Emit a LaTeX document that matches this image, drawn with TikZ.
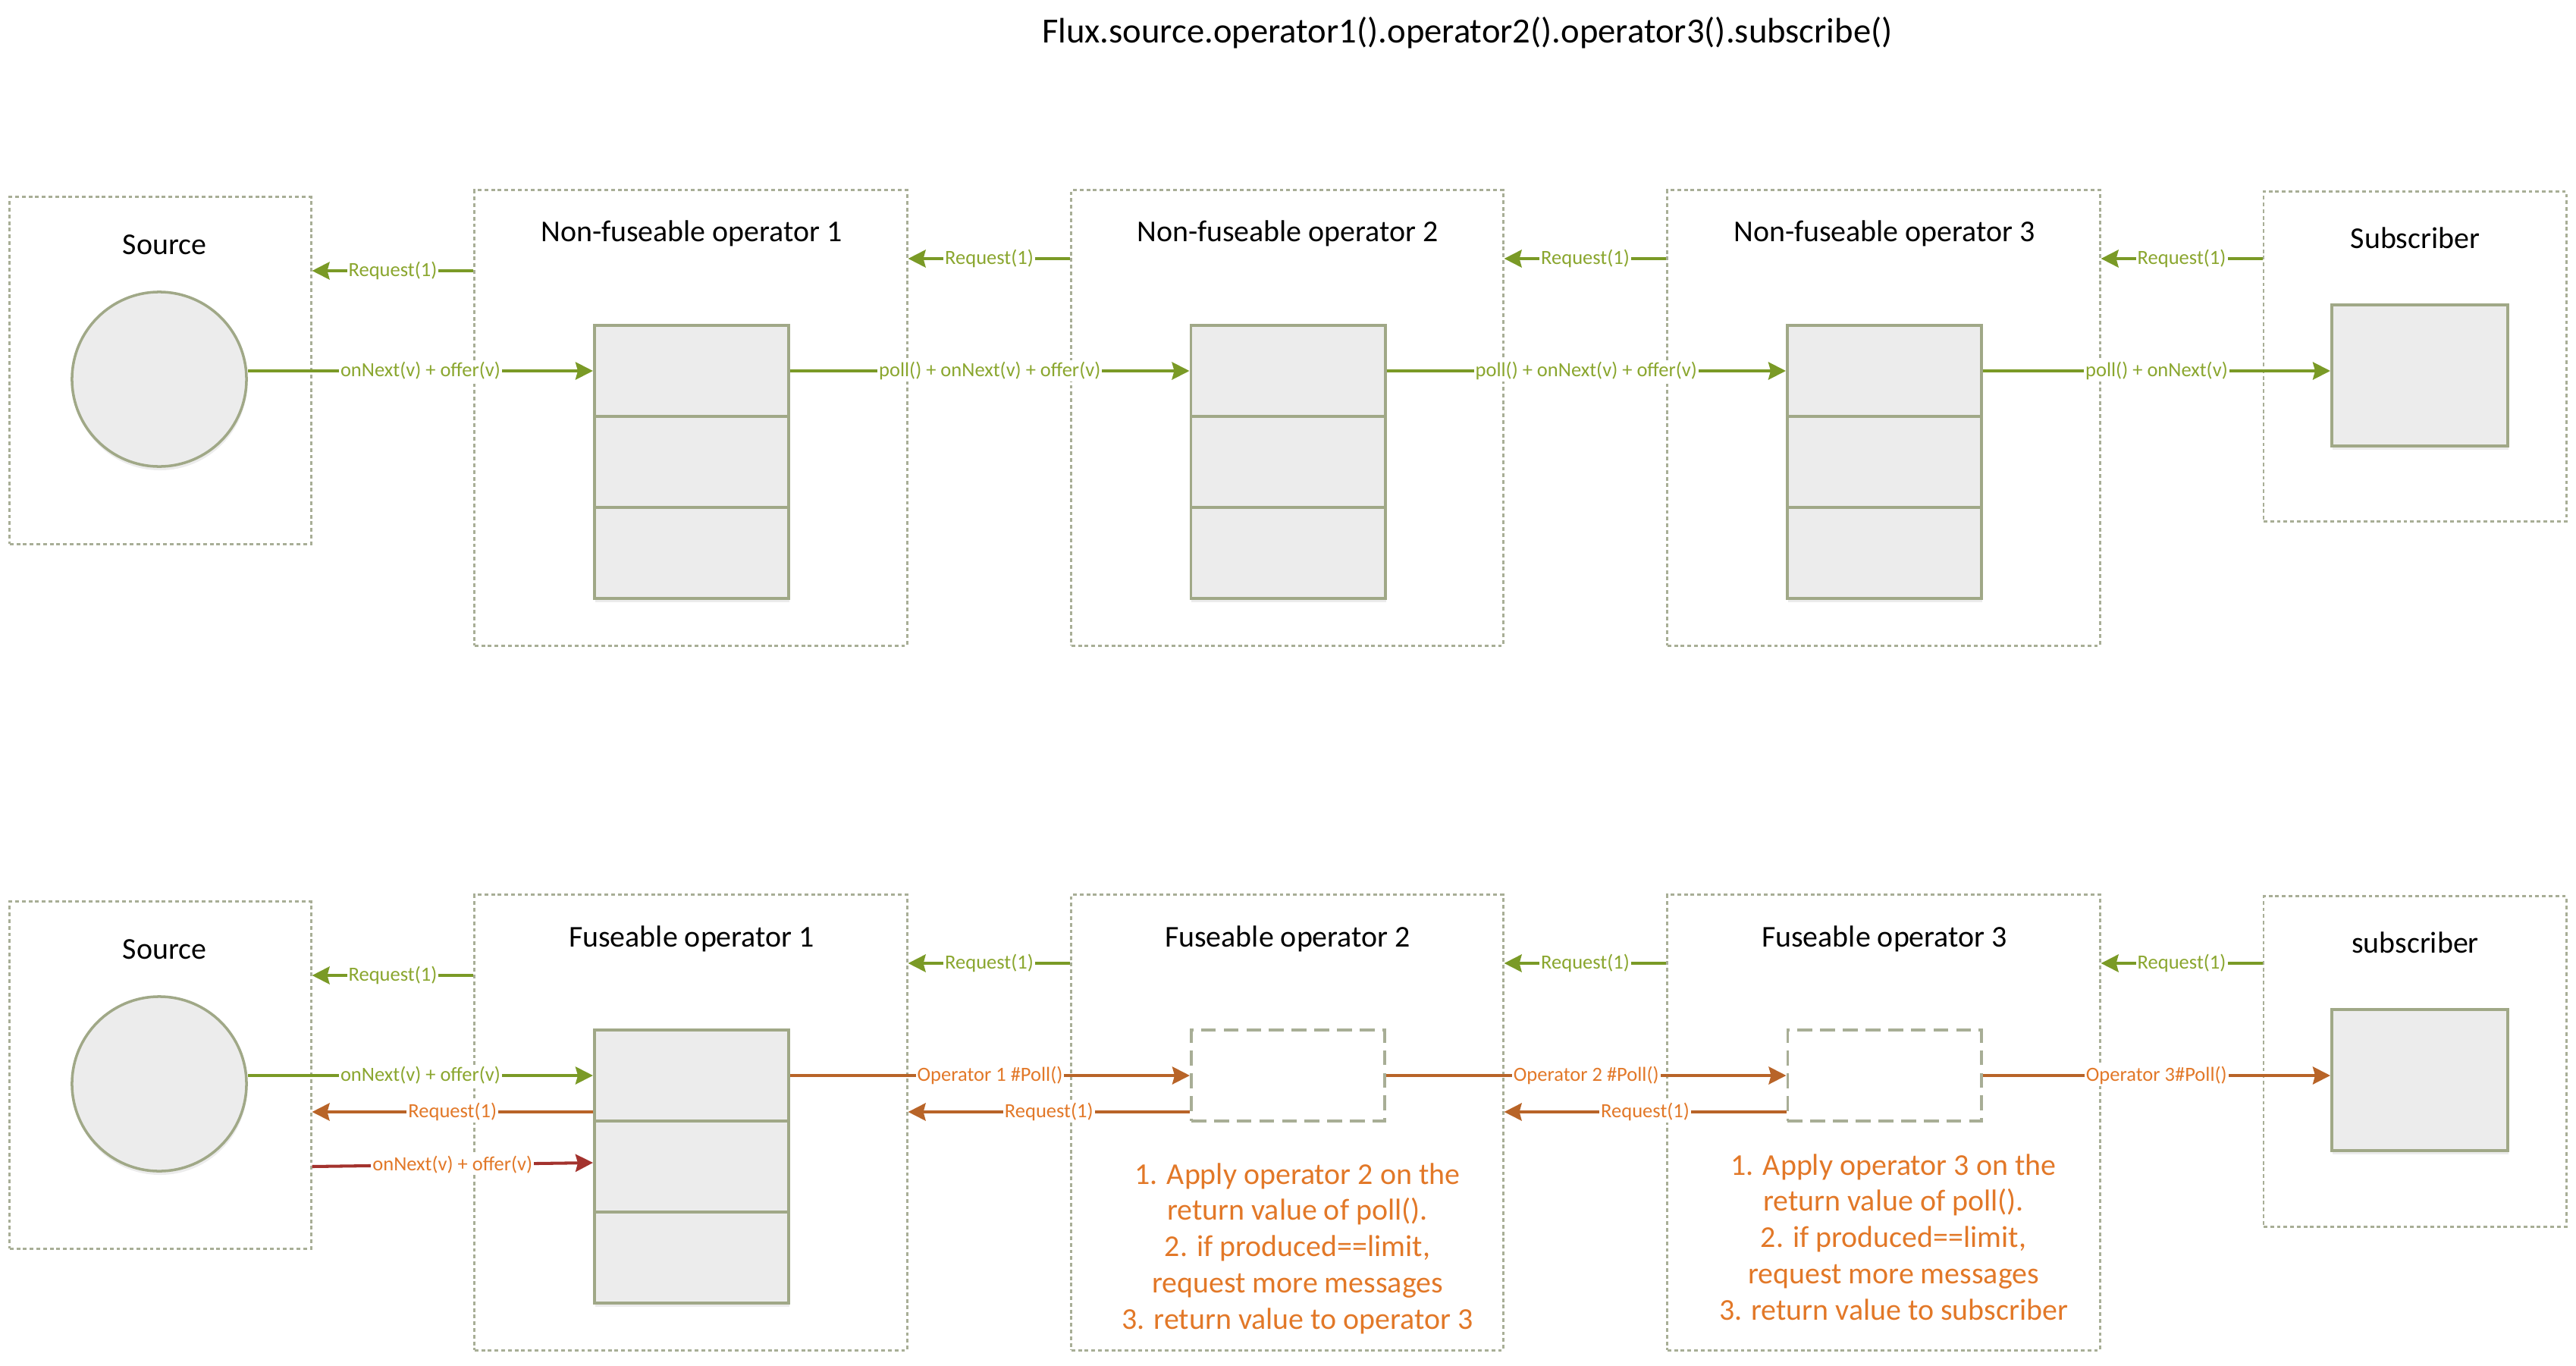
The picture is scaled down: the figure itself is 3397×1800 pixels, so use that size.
\documentclass[tikz,border=0pt]{standalone}
\usepackage{fontspec}
\setmainfont{Carlito}
\usetikzlibrary{arrows.meta,shadows}
\definecolor{linegreen}{RGB}{122,154,38}
\definecolor{textgreen}{RGB}{138,166,46}
\definecolor{lineorange}{RGB}{184,100,40}
\definecolor{textorange}{RGB}{226,120,40}
\definecolor{linered}{RGB}{163,50,45}
\definecolor{framegray}{RGB}{168,174,150}
\definecolor{cellgray}{RGB}{160,168,135}
\definecolor{cellfill}{RGB}{236,236,236}
\begin{document}
\begin{tikzpicture}[x=0.01cm,y=-0.01cm,
  frame/.style={draw=framegray, line width=0.8pt, dash pattern=on 1.4pt off 1.1pt, inner sep=0pt},
  boxname/.style={font=\fontsize{11.35}{13.6}\selectfont, inner sep=0pt},
  circ/.style={circle, draw=cellgray, line width=1pt, fill=cellfill, minimum size=2.3cm, inner sep=0pt,
    drop shadow={opacity=0.15, shadow xshift=0.01cm, shadow yshift=-0.05cm}},
  cell/.style={draw=cellgray, line width=1.1pt, fill=cellfill, minimum width=2.56cm, minimum height=1.2cm, inner sep=0pt},
  hole/.style={draw=framegray, line width=1.1pt, dash pattern=on 5.6pt off 2.9pt, minimum width=2.55cm, minimum height=1.2cm, inner sep=0pt},
  sink/.style={draw=cellgray, line width=1.1pt, fill=cellfill, minimum width=2.32cm, minimum height=1.86cm, inner sep=0pt,
    drop shadow={opacity=0.15, shadow xshift=0.01cm, shadow yshift=-0.05cm}},
  tip/.style={-{Stealth[length=0.23cm,width=0.23cm,inset=0.03cm]}, line width=1.15pt},
  greq/.style={tip, draw=linegreen},
  oreq/.style={tip, draw=lineorange},
  rreq/.style={tip, draw=linered},
  glbl/.style={font=\fontsize{7.54}{9}\selectfont, text=textgreen, fill=white, inner sep=0.6pt},
  olbl/.style={font=\fontsize{7.54}{9}\selectfont, text=textorange, fill=white, inner sep=0.6pt},
  note/.style={font=\fontsize{11.35}{13.57}\selectfont, text=textorange, align=center, inner sep=0pt}]
\useasboundingbox (0,0) rectangle (3397,1800);
\node[font=\fontsize{13.26}{16}\selectfont] (head) at (1935,43){Flux.source.operator1().operator2().operator3().subscribe()};
\node[frame, minimum width=3.97cm, minimum height=4.57cm] (src0) at (211.5,488.5){};
\node[boxname] (src0t) at (217,323){Source};
\node[circ] (circ0) at (210,500){};
\node[frame, minimum width=5.70cm, minimum height=6.00cm] (op1) at (911,551){};
\node[boxname] (op1t) at (912,308){Non-fuseable operator 1};
\node[cell, drop shadow={opacity=0.15, shadow xshift=0.01cm, shadow yshift=-0.05cm}] (q1c) at (912,729){};
\node[cell] (q1b) at (912,609){};
\node[cell] (q1a) at (912,489){};
\node[frame, minimum width=5.69cm, minimum height=6.00cm] (op2) at (1697.5,551){};
\node[boxname] (op2t) at (1698,308){Non-fuseable operator 2};
\node[cell, drop shadow={opacity=0.15, shadow xshift=0.01cm, shadow yshift=-0.05cm}] (q2c) at (1698.5,729){};
\node[cell] (q2b) at (1698.5,609){};
\node[cell] (q2a) at (1698.5,489){};
\node[frame, minimum width=5.70cm, minimum height=6.00cm] (op3) at (2484,551){};
\node[boxname] (op3t) at (2485,308){Non-fuseable operator 3};
\node[cell, drop shadow={opacity=0.15, shadow xshift=0.01cm, shadow yshift=-0.05cm}] (q3c) at (2485,729){};
\node[cell] (q3b) at (2485,609){};
\node[cell] (q3a) at (2485,489){};
\node[frame, minimum width=3.99cm, minimum height=4.35cm] (sub0) at (3184.5,470){};
\node[boxname] (sub0t) at (3185,314){Subscriber};
\node[sink] (subin0) at (3191,495){};
\draw[greq] (op1.west |- 0,357) -- node[glbl]{Request(1)} (src0.east |- 0,357);
\draw[greq] (op2.west |- 0,341) -- node[glbl]{Request(1)} (op1.east |- 0,341);
\draw[greq] (op3.west |- 0,341) -- node[glbl]{Request(1)} (op2.east |- 0,341);
\draw[greq] (sub0.west |- 0,341) -- node[glbl]{Request(1)} (op3.east |- 0,341);
\draw[greq] (circ0.east |- q1a.west) -- node[glbl]{onNext(v) + offer(v)} (q1a.west);
\draw[greq] (q1a.east) -- node[glbl]{poll() + onNext(v) + offer(v)} (q2a.west);
\draw[greq] (q2a.east) -- node[glbl]{poll() + onNext(v) + offer(v)} (q3a.west);
\draw[greq] (q3a.east) -- node[glbl]{poll() + onNext(v)} (subin0.west |- q3a.east);
\node[frame, minimum width=3.97cm, minimum height=4.57cm] (src1) at (211.5,1417.5){};
\node[boxname] (src1t) at (217,1252){Source};
\node[circ] (circ1) at (210,1429){};
\node[frame, minimum width=5.70cm, minimum height=6.00cm] (op4) at (911,1480){};
\node[boxname] (op4t) at (912,1238){Fuseable operator 1};
\node[cell, drop shadow={opacity=0.15, shadow xshift=0.01cm, shadow yshift=-0.05cm}] (q4c) at (912,1658){};
\node[cell] (q4b) at (912,1538){};
\node[cell] (q4a) at (912,1418){};
\node[frame, minimum width=5.69cm, minimum height=6.00cm] (op5) at (1697.5,1480){};
\node[boxname] (op5t) at (1698,1238){Fuseable operator 2};
\node[hole] (d5) at (1698.5,1418){};
\node[note] (n5) at (1711,1646){1. Apply operator 2 on the\\return value of poll().\\2. if produced==limit,\\request more messages\\3. return value to operator 3};
\node[frame, minimum width=5.70cm, minimum height=6.00cm] (op6) at (2484,1480){};
\node[boxname] (op6t) at (2485,1238){Fuseable operator 3};
\node[hole] (d6) at (2485,1418){};
\node[note] (n6) at (2497,1631){1. Apply operator 3 on the\\return value of poll().\\2. if produced==limit,\\request more messages\\3. return value to subscriber};
\node[frame, minimum width=3.99cm, minimum height=4.35cm] (sub1) at (3184.5,1399.5){};
\node[boxname] (sub1t) at (3185,1243){subscriber};
\node[sink] (subin1) at (3191,1424){};
\draw[greq] (op4.west |- 0,1286) -- node[glbl]{Request(1)} (src1.east |- 0,1286);
\draw[greq] (op5.west |- 0,1270) -- node[glbl]{Request(1)} (op4.east |- 0,1270);
\draw[greq] (op6.west |- 0,1270) -- node[glbl]{Request(1)} (op5.east |- 0,1270);
\draw[greq] (sub1.west |- 0,1270) -- node[glbl]{Request(1)} (op6.east |- 0,1270);
\draw[greq] (circ1.east |- q4a.west) -- node[glbl]{onNext(v) + offer(v)} (q4a.west);
\draw[oreq] (q4a.west |- 0,1466) -- node[olbl]{Request(1)} (src1.east |- 0,1466);
\draw[rreq] (src1.east |- 0,1538) -- node[olbl]{onNext(v) + offer(v)} (q4b.west |- 0,1533);
\draw[oreq] (q4a.east) -- node[olbl]{Operator 1 \#Poll()} (d5.west);
\draw[oreq] (d5.west |- 0,1466) -- node[olbl]{Request(1)} (op4.east |- 0,1466);
\draw[oreq] (d5.east) -- node[olbl]{Operator 2 \#Poll()} (d6.west);
\draw[oreq] (d6.west |- 0,1466) -- node[olbl]{Request(1)} (op5.east |- 0,1466);
\draw[oreq] (d6.east) -- node[olbl]{Operator 3\#Poll()} (subin1.west |- d6.east);
\end{tikzpicture}
\end{document}
